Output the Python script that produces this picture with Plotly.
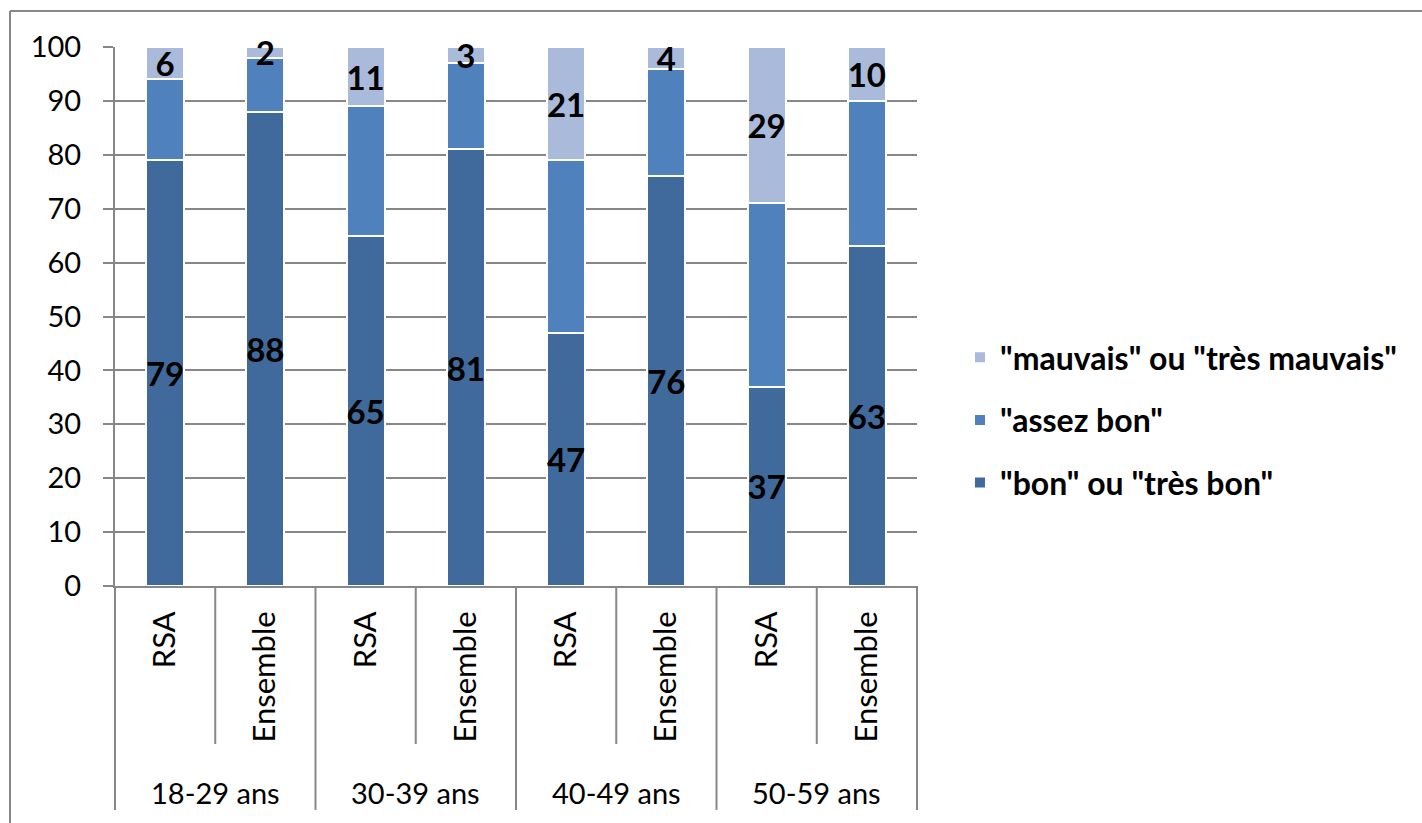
import plotly.graph_objects as go

# ---- data ----
age_groups = ["18-29 ans", "30-39 ans", "40-49 ans", "50-59 ans"]
populations = ["RSA", "Ensemble"]
bon = [79, 88, 65, 81, 47, 76, 37, 63]
assez_bon = [15, 10, 24, 16, 32, 20, 34, 27]
mauvais = [6, 2, 11, 3, 21, 4, 29, 10]
series_names = ['"bon" ou "très bon"', '"assez bon"', '"mauvais" ou "très mauvais"']
colors = ["#406A9B", "#4F81BD", "#AABADA"]

tick_labels = [p for _ in age_groups for p in populations]
xpos = list(range(len(tick_labels)))

FONT = "Lato"
GRID = "#878787"

fig = go.Figure()
series = [bon, assez_bon, mauvais]
show_text = [True, False, True]
ranks = [3, 2, 1]
for i, (vals, name, col, st) in enumerate(zip(series, series_names, colors, show_text)):
    fig.add_trace(go.Bar(
        x=xpos, y=vals, name=name,
        marker=dict(color=col, line=dict(color="white", width=2)),
        text=[str(v) for v in vals] if st else None,
        textposition="inside" if st else "none",
        insidetextanchor="middle",
        textangle=0,
        constraintext="none",
        cliponaxis=False,
        textfont=dict(family=FONT, size=33, color="black", weight="bold"),
        legendgroup=f"g{i}",
        legendrank=ranks[i],
        hoverinfo="y+name",
    ))

# plot area in pixels: x 115..917, y 47..586
shapes = []
inner_y = (586 - 744) / 539
outer_y = (586 - 810) / 539
for k in range(len(age_groups)):
    shapes.append(dict(type="line", xref="x", yref="paper", x0=2 * k + 0.5, x1=2 * k + 0.5,
                       y0=0, y1=inner_y, line=dict(color=GRID, width=2)))
for k in range(1, len(age_groups)):
    shapes.append(dict(type="line", xref="x", yref="paper", x0=2 * k - 0.5, x1=2 * k - 0.5,
                       y0=0, y1=outer_y, line=dict(color=GRID, width=2)))
for px in (0, 1):
    shapes.append(dict(type="line", xref="paper", yref="paper", x0=px, x1=px,
                       y0=0, y1=outer_y, line=dict(color=GRID, width=2)))

# outer frame (left and top edges visible)
fx = (10 - 115) / 802
fy = (586 - 11) / 539
shapes.append(dict(type="line", xref="paper", yref="paper", x0=fx, x1=fx,
                   y0=-0.6, y1=fy, line=dict(color=GRID, width=2)))
shapes.append(dict(type="line", xref="paper", yref="paper", x0=fx, x1=1.8,
                   y0=fy, y1=fy, line=dict(color=GRID, width=2)))

annotations = []
for k, g in enumerate(age_groups):
    annotations.append(dict(text=g, xref="x", yref="paper", x=2 * k + 0.5,
                            y=(586 - 792) / 539, showarrow=False,
                            xanchor="center", yanchor="middle",
                            font=dict(family=FONT, size=29, color="black")))

fig.update_layout(
    width=1422, height=823,
    margin=dict(l=115, r=505, t=47, b=237),
    paper_bgcolor="white", plot_bgcolor="white",
    barmode="stack", bargap=0.62,
    font=dict(family=FONT, color="black"),
    shapes=shapes, annotations=annotations,
    legend=dict(
        x=1.0536, y=0.475, xanchor="left", yanchor="top",
        traceorder="grouped", tracegroupgap=18,
        font=dict(family=FONT, size=32, color="black", weight="bold"),
        bgcolor="rgba(0,0,0,0)",
    ),
    showlegend=True,
)
fig.update_xaxes(
    range=[-0.5, 7.5], tickmode="array", tickvals=xpos, ticktext=tick_labels,
    tickangle=-90, ticks="", ticklabelstandoff=11,
    tickfont=dict(family=FONT, size=31, color="black"),
    showline=True, linecolor=GRID, linewidth=2, showgrid=False, zeroline=False,
)
fig.update_yaxes(
    range=[0, 100], dtick=10, tick0=0,
    ticks="outside", ticklen=10, tickcolor=GRID, tickwidth=2,
    ticklabelstandoff=16,
    tickfont=dict(family=FONT, size=29, color="black"),
    showgrid=True, gridcolor=GRID, gridwidth=2,
    showline=True, linecolor=GRID, linewidth=2, zeroline=False,
)

fig.write_html("out.html")
